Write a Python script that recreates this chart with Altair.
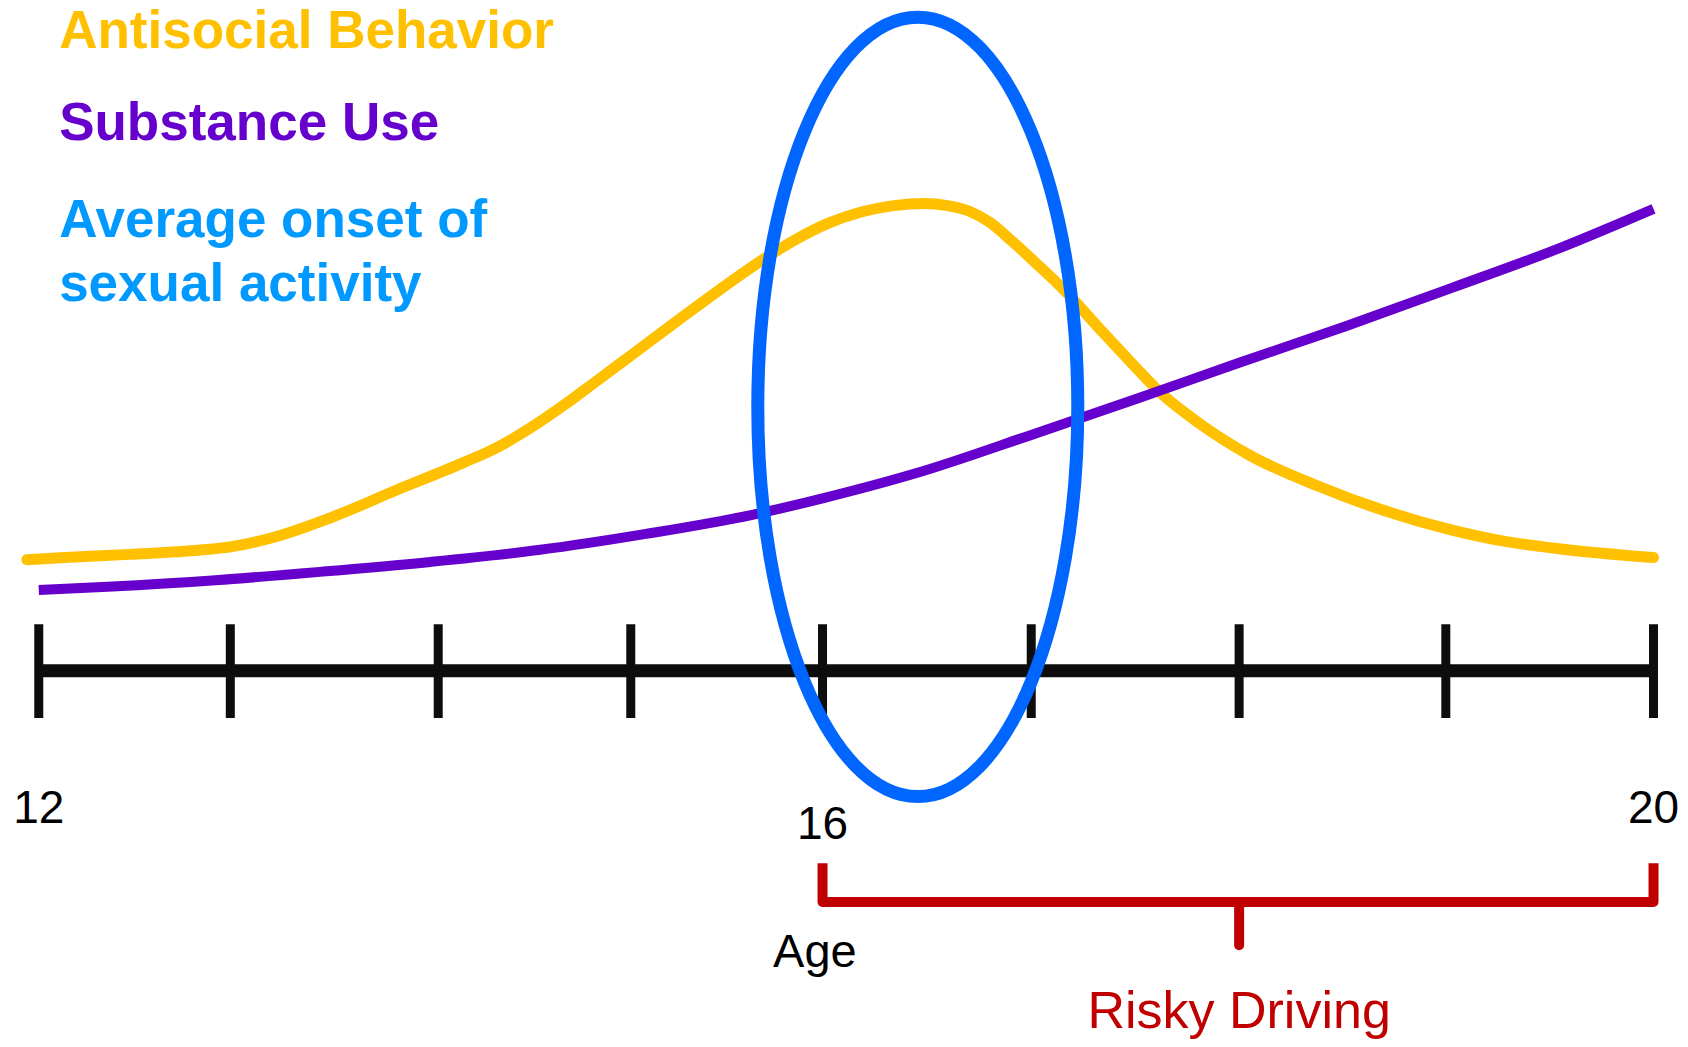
import altair as alt
import pandas as pd

# ---- data ----
# horizontal positions were read in picture units; age = 12 + (px - 36) / 187.5
anti_x_px = [25, 60, 120, 186, 214, 251, 307, 369, 430, 461,
             492, 523, 554, 585, 644, 712, 740, 768, 800, 830,
             860, 880, 900, 920, 941, 965, 990, 1022, 1050, 1077,
             1115, 1161, 1223, 1285, 1347, 1393, 1450, 1536]
anti_level = [103, 105, 108, 112, 115, 123, 142, 168, 193, 207,
              225, 246, 269, 292, 336, 384, 401, 415, 426, 432,
              434, 432, 427, 416, 398, 376, 352, 317, 287, 259,
              229, 200, 172, 149, 131, 121, 113, 105]
anti_age = [round(12 + (p - 36) / 187.5, 3) for p in anti_x_px]

sub_age = [12.0, 12.341, 12.875, 13.408, 13.941, 14.475, 15.008, 15.541, 15.883, 16.357,
           16.917, 17.461, 17.947, 18.475, 19.008, 19.541, 20.0]
sub_level = [75, 78, 84, 92, 101, 112, 127, 145, 160, 184,
             219, 254, 286, 320, 356, 393, 429]

tick_age = [12, 12.949, 13.979, 14.933, 15.883, 16.917, 17.947, 18.971, 20]
label_age = [12, 15.883, 20]
label_text = ["12", "16", "20"]
label_level = [-142, -156, -142]

onset_age = [16.355]
onset_level = [245]

bracket_age = [15.883, 15.883, 20, 20]
bracket_level = [-179, -215, -215, -179]
bracket_order = [0, 1, 2, 3]
bracket_mid_age = [17.947]

legend_text = ["Antisocial Behavior", "Substance Use", "Average onset of", "sexual activity"]
legend_color = ["#FFC000", "#6600CC", "#0099FF", "#0099FF"]
legend_level = [578, 493, 403, 343]
legend_age = [12.101, 12.101, 12.101, 12.101]

XDOM = [11.8476, 20.1312]
YDOM = [-342.2, 615.57]


def X(field="age"):
    return alt.X(f"{field}:Q", scale=alt.Scale(domain=XDOM, nice=False, zero=False), axis=None)


def Y(field="level"):
    return alt.Y(f"{field}:Q", scale=alt.Scale(domain=YDOM, nice=False, zero=False), axis=None)


FONT = "Liberation Sans"

axis_df = pd.DataFrame({"age": [tick_age[0]], "age2": [tick_age[-1]], "level": [0]})
axis_line = alt.Chart(axis_df).mark_rule(color="#0d0d0d", strokeWidth=13).encode(
    x=X(), x2="age2:Q", y=Y())

ticks_df = pd.DataFrame({"age": tick_age, "top": [43] * len(tick_age), "bottom": [-44] * len(tick_age)})
ticks = alt.Chart(ticks_df).mark_rule(color="#0d0d0d", strokeWidth=9).encode(
    x=X(), y=Y("top"), y2="bottom:Q")

anti_df = pd.DataFrame({"age": anti_age, "level": anti_level})
anti = alt.Chart(anti_df).mark_line(color="#FFC000", strokeWidth=11, interpolate="monotone",
                                    strokeCap="round").encode(x=X(), y=Y())

sub_df = pd.DataFrame({"age": sub_age, "level": sub_level})
sub = alt.Chart(sub_df).mark_line(color="#6600CC", strokeWidth=10, interpolate="monotone").encode(
    x=X(), y=Y())

k = 0.5523
a = 0.4106
ell_path = (f"M {a} 0 C {a} {k}, {a*k:.4f} 1, 0 1 C {-a*k:.4f} 1, {-a} {k}, {-a} 0 "
            f"C {-a} {-k}, {-a*k:.4f} -1, 0 -1 C {a*k:.4f} -1, {a} {-k}, {a} 0 Z")
onset_df = pd.DataFrame({"age": onset_age, "level": onset_level})
onset = alt.Chart(onset_df).mark_point(shape=ell_path, filled=False, color="#0066FF",
                                       strokeWidth=13, opacity=1, size=607464).encode(x=X(), y=Y())

labels_df = pd.DataFrame({"age": label_age, "level": label_level, "label": label_text})
labels = alt.Chart(labels_df).mark_text(font=FONT, fontSize=46, color="#000000", align="center",
                                        baseline="alphabetic").encode(x=X(), y=Y(), text="label:N")

age_df = pd.DataFrame({"age": [15.845], "level": [-275], "label": ["Age"]})
age_txt = alt.Chart(age_df).mark_text(font=FONT, fontSize=47, color="#000000", align="center",
                                      baseline="alphabetic").encode(x=X(), y=Y(), text="label:N")

br_df = pd.DataFrame({"age": bracket_age, "level": bracket_level, "o": bracket_order})
bracket = alt.Chart(br_df).mark_line(color="#C00000", strokeWidth=10, strokeJoin="round").encode(
    x=X(), y=Y(), order="o:Q")

stub_df = pd.DataFrame({"age": bracket_mid_age, "top": [-215], "bottom": [-255]})
stub = alt.Chart(stub_df).mark_rule(color="#C00000", strokeWidth=10, strokeCap="round").encode(
    x=X(), y=Y("top"), y2="bottom:Q")

risky_df = pd.DataFrame({"age": bracket_mid_age, "level": [-332], "label": ["Risky Driving"]})
risky = alt.Chart(risky_df).mark_text(font=FONT, fontSize=52, color="#C00000", align="center",
                                      baseline="alphabetic").encode(x=X(), y=Y(), text="label:N")

leg_df = pd.DataFrame({"age": legend_age, "level": legend_level, "label": legend_text,
                       "color": legend_color})
legend = alt.Chart(leg_df).mark_text(font=FONT, fontSize=53, fontWeight="bold", align="left",
                                     baseline="alphabetic").encode(
    x=X(), y=Y(), text="label:N", color=alt.Color("color:N", scale=None))

chart = alt.layer(axis_line, ticks, anti, sub, onset, labels, age_txt, bracket, stub, risky, legend).properties(
    width=1672, height=1031, autosize=alt.AutoSizeParams(type="none"), padding=0,
).configure_view(stroke="transparent")

chart.save("out.html", embed_options={"renderer": "svg", "actions": False})
